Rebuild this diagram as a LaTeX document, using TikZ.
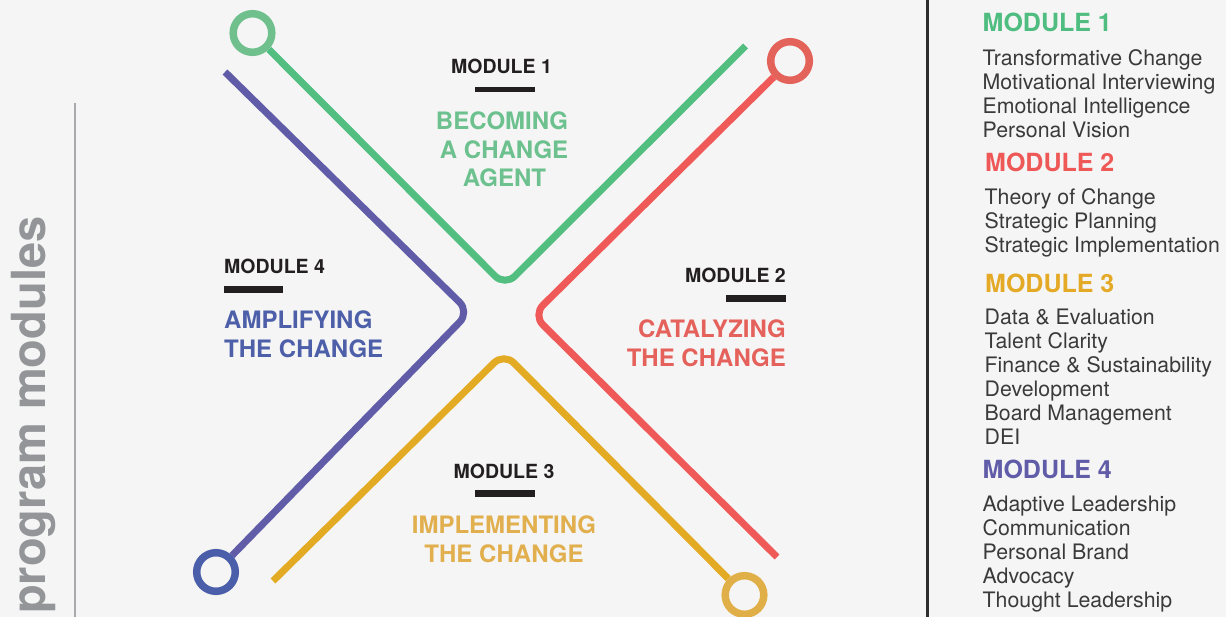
\documentclass[tikz,border=0pt]{standalone}
\usepackage{fontspec}
\setmainfont{TeX Gyre Heros}
\definecolor{bg}{HTML}{F5F5F5}
\definecolor{grn}{HTML}{52BE80}
\definecolor{grnring}{HTML}{6FC08D}
\definecolor{grntext}{HTML}{6CC18E}
\definecolor{redl}{HTML}{EF5957}
\definecolor{redring}{HTML}{E3635B}
\definecolor{redtext}{HTML}{E5625C}
\definecolor{pur}{HTML}{605CA8}
\definecolor{bluring}{HTML}{4B5EA9}
\definecolor{blutext}{HTML}{4E5FA9}
\definecolor{yel}{HTML}{E3AA24}
\definecolor{yelring}{HTML}{E0AF48}
\definecolor{yeltext}{HTML}{E1AF4E}
\definecolor{hone}{HTML}{4EBD7F}
\definecolor{htwo}{HTML}{EE5857}
\definecolor{hthree}{HTML}{E4A925}
\definecolor{hfour}{HTML}{615CA8}
\definecolor{bodytext}{HTML}{3A3A3A}
\definecolor{lblack}{HTML}{231F20}
\definecolor{proggray}{HTML}{939598}
\definecolor{leftbar}{HTML}{A7A9AC}
\definecolor{divcol}{HTML}{2E2E2E}
\begin{document}
\begin{tikzpicture}[x=1pt,y=-1pt,
  ring/.style={circle,draw,line width=7.5pt,minimum size=38.6pt,inner sep=0pt,fill=bg},
  track/.style={line width=7pt,rounded corners=14pt,line cap=butt},
  modlbl/.style={font=\bfseries\fontsize{19.5}{19.5}\selectfont,text=lblack,inner sep=0pt},
  ttl/.style={font=\bfseries\fontsize{24}{24}\selectfont,inner sep=0pt},
  rhead/.style={font=\bfseries\fontsize{25}{25}\selectfont,inner sep=0pt,anchor=base west},
  rbody/.style={font=\fontsize{21.3}{24}\selectfont,text=bodytext,inner sep=0pt,anchor=base west},
  progtxt/.style={font=\bfseries\fontsize{47}{47}\selectfont,text=proggray,inner sep=0pt}
]
\useasboundingbox (0,0) rectangle (1226,617);
\fill[bg] (0,0) rectangle (1226,617);

% left title and bar
\node[progtxt,anchor=base west,rotate=90] (prog) at (45,614) {program modules};
\coordinate (lbtop) at (75,103);
\coordinate (lbbot) at (75,617);
\draw[leftbar,line width=2pt] (lbtop) -- (lbbot);

% divider
\coordinate (dtop) at (927.5,0);
\coordinate (dbot) at (927.5,617);
\draw[divcol,line width=2.8pt] (dtop) -- (dbot);

% rings
\node[ring,draw=grnring] (g1) at (252.5,33) {};
\node[ring,draw=redring] (r1) at (790,61) {};
\node[ring,draw=bluring] (b1) at (216,572) {};
\node[ring,draw=yelring] (y1) at (744.5,595) {};

% tracks
\coordinate (gv) at (505,286);
\coordinate (ge) at (745.5,46);
\draw[track,grn] (g1) -- (gv) -- (ge);

\coordinate (ps) at (225,72);
\coordinate (pv) at (469.5,312);
\draw[track,pur] (ps) -- (pv) -- (b1);

\coordinate (rv) at (533,315);
\coordinate (re) at (777,557);
\draw[track,redl] (r1) -- (rv) -- (re);

\coordinate (ys) at (273,581);
\coordinate (yv) at (504,353);
\draw[track,yel] (ys) -- (yv) -- (y1);

% module 1 label
\node[modlbl,anchor=base] (m1) at (501.5,74) {MODULE 1};
\fill[lblack] (475,86.8) rectangle (535,92.5);
\node[ttl,text=grntext,anchor=base] (t1a) at (502,130) {BECOMING};
\node[ttl,text=grntext,anchor=base] (t1b) at (504,159) {A CHANGE};
\node[ttl,text=grntext,anchor=base] (t1c) at (504.5,187) {AGENT};

% module 2 label
\node[modlbl,anchor=base east] (m2) at (786,282.3) {MODULE 2};
\fill[lblack] (726,295) rectangle (786,301.7);
\node[ttl,text=redtext,anchor=base east] (t2a) at (786,337.5) {CATALYZING};
\node[ttl,text=redtext,anchor=base east] (t2b) at (786,366.5) {THE CHANGE};

% module 3 label
\node[modlbl,anchor=base] (m3) at (504,478) {MODULE 3};
\fill[lblack] (475,490) rectangle (535,497);
\node[ttl,text=yeltext,anchor=base] (t3a) at (504,533) {IMPLEMENTING};
\node[ttl,text=yeltext,anchor=base] (t3b) at (504,562) {THE CHANGE};

% module 4 label
\node[modlbl,anchor=base west] (m4) at (224,273.3) {MODULE 4};
\fill[lblack] (223.5,286) rectangle (282.5,292.7);
\node[ttl,text=blutext,anchor=base west] (t4a) at (224,329) {AMPLIFYING};
\node[ttl,text=blutext,anchor=base west] (t4b) at (224,357.5) {THE CHANGE};

% right column
\node[rhead,text=hone] (h1) at (982.5,32) {MODULE 1};
\node[rbody] (h1a) at (982.5,65.5) {Transformative Change};
\node[rbody] (h1b) at (982.5,89.5) {Motivational Interviewing};
\node[rbody] (h1c) at (982.5,113.5) {Emotional Intelligence};
\node[rbody] (h1d) at (982.5,137.5) {Personal Vision};

\node[rhead,text=htwo] (h2) at (985,172) {MODULE 2};
\node[rbody] (h2a) at (984.5,204.5) {Theory of Change};
\node[rbody] (h2b) at (984.5,228.5) {Strategic Planning};
\node[rbody] (h2c) at (984.5,252.5) {Strategic Implementation};

\node[rhead,text=hthree] (h3) at (985,293) {MODULE 3};
\node[rbody] (h3a) at (984.5,324.5) {Data \& Evaluation};
\node[rbody] (h3b) at (984.5,348.5) {Talent Clarity};
\node[rbody] (h3c) at (984.5,372.5) {Finance \& Sustainability};
\node[rbody] (h3d) at (984.5,396.5) {Development};
\node[rbody] (h3e) at (984.5,420.5) {Board Management};
\node[rbody] (h3f) at (984.5,444.5) {DEI};

\node[rhead,text=hfour] (h4) at (982.5,478) {MODULE 4};
\node[rbody] (h4a) at (982.5,511.5) {Adaptive Leadership};
\node[rbody] (h4b) at (982.5,535.5) {Communication};
\node[rbody] (h4c) at (982.5,559.5) {Personal Brand};
\node[rbody] (h4d) at (982.5,583.5) {Advocacy};
\node[rbody] (h4e) at (982.5,607.5) {Thought Leadership};
\end{tikzpicture}
\end{document}
